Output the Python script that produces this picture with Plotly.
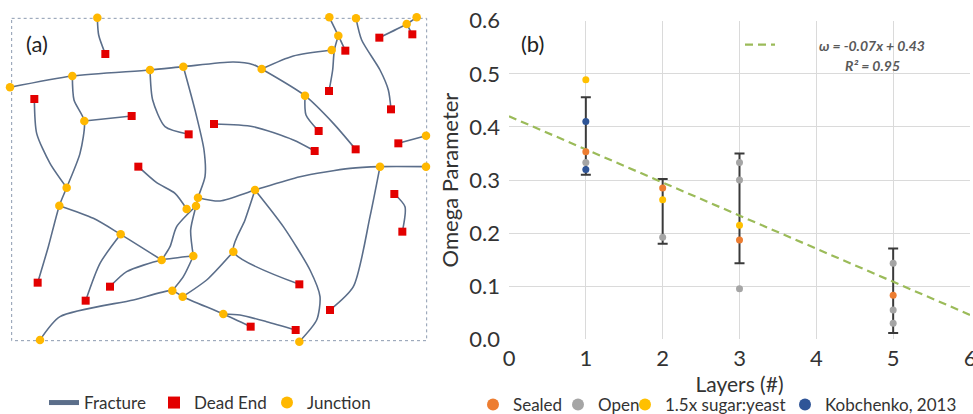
import plotly.graph_objects as go

# ---------------- Panel (a): fracture network (arbitrary image units) ----------------
junction_x = [292, 988, 1068, 1250, 1220, 1015, 995, 30, 217, 450, 550, 785, 915, 253, 1278, 1140,
              1278, 200, 178, 765, 594, 560, 588, 362, 700, 485, 580, 517, 548, 670, 120, 898]
junction_y = [53, 52, 55, 52, 72, 107, 150, 262, 228, 210, 200, 207, 287, 363, 407, 500,
              500, 563, 617, 570, 593, 627, 618, 703, 755, 780, 768, 872, 890, 942, 1020, 1025]

deadend_x = [316, 1036, 1138, 1237, 103, 395, 566, 642, 987, 1173, 956, 1067, 944, 1195, 415, 1183,
             1207, 113, 330, 257, 898, 990, 752, 887]
deadend_y = [162, 152, 113, 103, 297, 348, 403, 372, 273, 328, 393, 448, 453, 430, 500, 582,
             695, 848, 860, 902, 853, 930, 980, 990]

fractures = [
    [(292, 53), (296, 105), (316, 162)],
    [(988, 52), (1015, 107), (1036, 152)],
    [(1015, 107), (1003, 150), (998, 210), (987, 273)],
    [(785, 207), (880, 168), (995, 150)],
    [(1068, 55), (1085, 120), (1140, 210), (1165, 270), (1173, 328)],
    [(1250, 52), (1220, 72), (1138, 113)],
    [(1220, 72), (1237, 103)],
    [(30, 262), (217, 228), (450, 210), (550, 200), (700, 186), (760, 194), (785, 207)],
    [(785, 207), (915, 287), (1000, 370), (1067, 448)],
    [(915, 287), (918, 345), (956, 393)],
    [(217, 228), (222, 300), (253, 363), (240, 460), (200, 563), (178, 617), (145, 740), (113, 848)],
    [(253, 363), (395, 348)],
    [(103, 297), (110, 400), (150, 490), (200, 563)],
    [(450, 210), (458, 300), (495, 380), (566, 403)],
    [(550, 200), (585, 330), (612, 450), (615, 530), (594, 593), (588, 618), (572, 690), (580, 768)],
    [(642, 372), (760, 380), (880, 420), (944, 453)],
    [(415, 500), (470, 548), (525, 580), (560, 627)],
    [(588, 618), (530, 680), (510, 740), (485, 780)],
    [(594, 593), (660, 603), (765, 570), (900, 530), (1050, 505), (1140, 500), (1278, 500)],
    [(1140, 500), (1110, 650), (1060, 860), (990, 930)],
    [(765, 570), (735, 660), (700, 755), (898, 853)],
    [(700, 755), (620, 840), (548, 890)],
    [(765, 570), (850, 680), (930, 810), (960, 890), (950, 960), (898, 1025)],
    [(178, 617), (280, 655), (362, 703), (485, 780)],
    [(362, 703), (300, 790), (257, 902)],
    [(330, 860), (380, 815), (485, 780), (580, 768)],
    [(580, 768), (550, 830), (517, 872)],
    [(120, 1020), (180, 950), (400, 900), (517, 872), (548, 890), (670, 942), (752, 980)],
    [(670, 942), (720, 945), (800, 965), (887, 990)],
    [(1195, 430), (1278, 407)],
    [(1183, 582), (1215, 620), (1207, 695)],
]
net_box_x = [35, 1280]
net_box_y = [55, 1022]
net_x_range = [25, 1290]
net_y_range = [1035, 45]

# ---------------- Panel (b): omega parameter vs layers ----------------
sealed_x = [1, 2, 3, 5]
sealed_y = [0.353, 0.285, 0.187, 0.083]
open_x = [1, 2, 3, 3, 3, 5, 5, 5]
open_y = [0.333, 0.192, 0.333, 0.300, 0.095, 0.143, 0.055, 0.030]
yeast_x = [1, 2, 3]
yeast_y = [0.489, 0.263, 0.215]
kob_x = [1, 1]
kob_y = [0.410, 0.320]
bar_x = [1, 2, 3, 5]
bar_top = [0.456, 0.302, 0.350, 0.171]
bar_bottom = [0.310, 0.180, 0.143, 0.012]
trend_x = [0, 6]
trend_y = [0.420, 0.046]
x_ticks = [0, 1, 2, 3, 4, 5, 6]
y_ticks = [0.0, 0.1, 0.2, 0.3, 0.4, 0.5, 0.6]

W, H = 973, 414
FONT = "Lato"
TXT = "#333333"

def px(x):
    return x / W

def py(y):
    return 1 - y / H

fig = go.Figure()

# fractures as one trace with gaps
fx, fy = [], []
for path in fractures:
    fx += [p[0] for p in path] + [None]
    fy += [p[1] for p in path] + [None]
fig.add_trace(go.Scatter(x=fx, y=fy, mode="lines", name="Fracture",
                         line=dict(color="#5B6E8A", width=1.6, shape="spline", smoothing=0.7),
                         connectgaps=False, xaxis="x", yaxis="y", legend="legend"))
fig.add_trace(go.Scatter(x=deadend_x, y=deadend_y, mode="markers", name="Dead End",
                         marker=dict(symbol="square", size=8, color="#E30000"),
                         cliponaxis=False, xaxis="x", yaxis="y", legend="legend2"))
fig.add_trace(go.Scatter(x=junction_x, y=junction_y, mode="markers", name="Junction",
                         marker=dict(symbol="circle", size=8.5, color="#FFB800"),
                         cliponaxis=False, xaxis="x", yaxis="y", legend="legend3"))

# panel b
mid = [(t + b) / 2 for t, b in zip(bar_top, bar_bottom)]
fig.add_trace(go.Scatter(x=bar_x, y=mid, mode="markers", showlegend=False,
                         marker=dict(size=1, opacity=0),
                         error_y=dict(type="data", symmetric=False,
                                      array=[t - m for t, m in zip(bar_top, mid)],
                                      arrayminus=[m - b for m, b in zip(mid, bar_bottom)],
                                      color="#3A3A3A", thickness=2, width=5),
                         xaxis="x2", yaxis="y2", hoverinfo="skip"))
fig.add_trace(go.Scatter(x=trend_x, y=trend_y, mode="lines", name=" ",
                         line=dict(color="#9BBB59", width=2.2, dash="8px,5px"),
                         xaxis="x2", yaxis="y2", legend="legend8"))
series = [
    ("Sealed", sealed_x, sealed_y, "#ED7D31", "legend4"),
    ("Open", open_x, open_y, "#A5A5A5", "legend5"),
    ("1.5x sugar:yeast", yeast_x, yeast_y, "#FFC000", "legend6"),
    ("Kobchenko, 2013", kob_x, kob_y, "#2F5597", "legend7"),
]
for name, xs, ys, col, lg in series:
    fig.add_trace(go.Scatter(x=xs, y=ys, mode="markers", name=name,
                             marker=dict(size=7, color=col),
                             cliponaxis=False, xaxis="x2", yaxis="y2", legend=lg))

def leg(x_sym, y_c):
    return dict(x=px(x_sym - 20), y=py(y_c), xanchor="left", yanchor="middle",
                orientation="h", bgcolor="rgba(0,0,0,0)", borderwidth=0,
                font=dict(family=FONT, size=17, color=TXT), itemsizing="constant")

fig.update_layout(
    width=W, height=H,
    margin=dict(l=0, r=0, t=0, b=0, autoexpand=False),
    paper_bgcolor="white", plot_bgcolor="white",
    font=dict(family=FONT, color=TXT),
    xaxis=dict(domain=[px(25 / 3), px(1290 / 3)], range=net_x_range, visible=False),
    yaxis=dict(domain=[py(1035 / 3), py(45 / 3)], range=net_y_range, visible=False),
    xaxis2=dict(domain=[px(509), px(970)], range=[0, 6], tickvals=x_ticks,
                showgrid=True, gridcolor="#DADADA", gridwidth=1.3, zeroline=False,
                showline=False, ticks="", ticklabelstandoff=4, ticklabeloverflow="allow",
                tickfont=dict(family=FONT, size=22, color=TXT),
                title=dict(text="Layers (#)", font=dict(family=FONT, size=21, color=TXT), standoff=0),
                anchor="y2"),
    yaxis2=dict(domain=[py(339.3), py(20.7)], range=[0, 0.6], tickvals=y_ticks, tickformat=".1f",
                showgrid=True, gridcolor="#DADADA", gridwidth=1.3, zeroline=False,
                showline=False, ticks="", ticklabelstandoff=8, ticklabeloverflow="allow",
                tickfont=dict(family=FONT, size=22, color=TXT),
                title=dict(text="Omega Parameter", font=dict(family=FONT, size=22, color=TXT), standoff=4),
                anchor="x2"),
    legend=leg(64, 403),
    legend2=leg(174, 403),
    legend3=leg(287, 403),
    legend4=leg(493, 405),
    legend5=leg(578, 405),
    legend6=leg(645, 405),
    legend7=leg(805, 405),
    legend8=dict(x=px(740), y=py(45), xanchor="left", yanchor="middle", orientation="h",
                 bgcolor="rgba(0,0,0,0)", font=dict(family=FONT, size=14, color="#595959")),
    shapes=[dict(type="rect", xref="x", yref="y", x0=net_box_x[0], x1=net_box_x[1],
                 y0=net_box_y[0], y1=net_box_y[1],
                 line=dict(color="#8C9BB0", width=1, dash="dot"), layer="below")],
    annotations=[
        dict(text="(a)", x=px(24), y=py(43), xref="paper", yref="paper", xanchor="left",
             yanchor="middle", showarrow=False, font=dict(family=FONT, size=22, color="#222222")),
        dict(text="(b)", x=px(519), y=py(43), xref="paper", yref="paper", xanchor="left",
             yanchor="middle", showarrow=False, font=dict(family=FONT, size=22, color="#222222")),
        dict(text="<b><i>ω = -0.07x + 0.43</i></b>", x=px(872), y=py(45), xref="paper", yref="paper",
             xanchor="center", yanchor="middle", showarrow=False,
             font=dict(family=FONT, size=14, color="#595959")),
        dict(text="<b><i>R² = 0.95</i></b>", x=px(872), y=py(65), xref="paper", yref="paper",
             xanchor="center", yanchor="middle", showarrow=False,
             font=dict(family=FONT, size=14, color="#595959")),
    ],
)

fig.write_html("out.html", config={"displayModeBar": False},
               post_script="document.body.style.margin='0';document.body.style.overflow='hidden';")
